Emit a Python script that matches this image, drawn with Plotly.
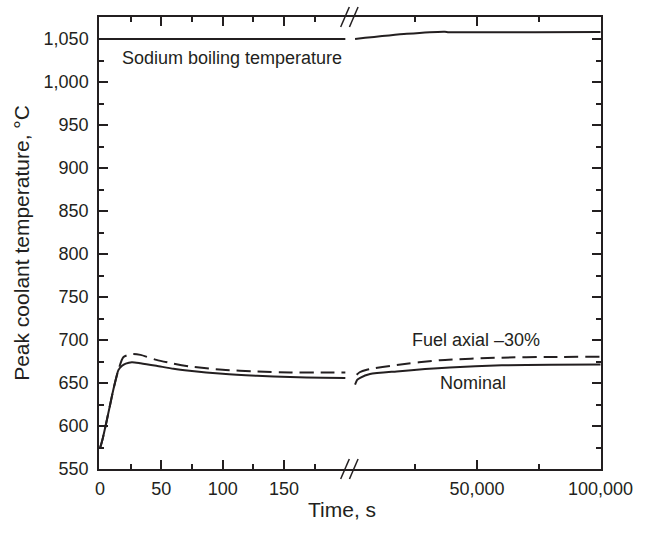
import plotly.graph_objects as go

# ---------------- data ----------------
# left (short-time) segment, time in s
t_left = [0, 2, 5, 8, 11, 15, 18, 21, 26, 33, 46, 60, 73, 100, 128, 155, 182, 200]
nominal_left = [574, 584, 603, 623, 643, 665, 670, 672.5, 674.2, 673, 670, 666.5, 664.2, 660.7, 658.4, 656.9, 656.1, 655.8]
t_fuel_left = [0, 2, 5, 8, 11, 15, 19, 26, 33, 46, 60, 73, 100, 128, 155, 182, 200]
fuel_left = [574, 584, 603, 623, 643, 665, 680, 683.8, 682.7, 676.9, 672.5, 669.2, 665.4, 663.4, 662.3, 662.3, 662.3]
t_sodium_left = [0, 200]
sodium_left = [1050, 1050]

# right (long-time) segment, time in s
t_nom_right = [650, 1500, 2700, 6700, 17500, 39000, 60000, 80000, 100000]
nominal_right = [648, 653.5, 656, 660.5, 663.5, 668, 670.5, 671.2, 671.5]
t_fuel_right = [1300, 2500, 5400, 17500, 35000, 60000, 80000, 100000]
fuel_right = [659.5, 662.5, 665.5, 671, 676.5, 679.5, 680.3, 680.5]
t_sodium_right = [650, 21600, 37000, 38500, 73600, 100000]
sodium_right = [1050, 1056, 1058.5, 1058, 1058, 1058.3]

x_left_ticks = [0, 50, 100, 150]
x_left_minor = [25, 75, 125, 175]
x_right_ticks = [50000, 100000]
x_right_labels = ["50,000", "100,000"]
x_right_minor = [25000, 75000]
y_ticks = [550, 600, 650, 700, 750, 800, 850, 900, 950, 1000, 1050]

# ---------------- style ----------------
INK = "#231f20"
FONT = "Liberation Sans, Arial, sans-serif"
LW = 2

fig = go.Figure()

def add(x, y, xa, ya, dash=None):
    fig.add_trace(go.Scatter(
        x=x, y=y, xaxis=xa, yaxis=ya, mode="lines",
        line=dict(color=INK, width=LW, dash=dash, shape="spline", smoothing=0.6),
        showlegend=False, hoverinfo="skip"))

add(t_sodium_left, sodium_left, "x", "y")
add(t_left, nominal_left, "x", "y")
add(t_fuel_left, fuel_left, "x", "y", dash="14px,7px")
add(t_sodium_right, sodium_right, "x2", "y2")
add(t_nom_right, nominal_right, "x2", "y2")
add(t_fuel_right, fuel_right, "x2", "y2", dash="14px,7px")

axis_common = dict(
    showline=True, linecolor=INK, linewidth=1.5, ticks="inside", ticklen=9,
    tickwidth=1.5, tickcolor=INK, showgrid=False, zeroline=False,
    tickfont=dict(family=FONT, size=18, color=INK),
)

Y_RANGE = [550, 1075.6]

fig.update_layout(
    width=645, height=533,
    margin=dict(l=99, r=44, t=17, b=64),
    paper_bgcolor="white", plot_bgcolor="white",
    font=dict(family=FONT, color=INK),
    xaxis=dict(domain=[0, 0.5], range=[-0.8, 203.8], anchor="y", mirror="ticks",
               tickvals=x_left_ticks, ticklabelstandoff=3,
               minor=dict(tickvals=x_left_minor, ticks="inside", ticklen=5,
                          tickwidth=1.5, tickcolor=INK),
               **axis_common),
    xaxis2=dict(domain=[0.5, 1], range=[-1400, 100200], anchor="y2", mirror="ticks",
                tickvals=x_right_ticks, ticktext=x_right_labels, ticklabelstandoff=3,
                minor=dict(tickvals=x_right_minor, ticks="inside", ticklen=5,
                           tickwidth=1.5, tickcolor=INK),
                **axis_common),
    yaxis=dict(domain=[0, 1], range=Y_RANGE, anchor="x", mirror=False,
               tickvals=y_ticks, tickformat=",", ticklabelstandoff=5,
               minor=dict(dtick=25, tick0=550, ticks="inside", ticklen=5,
                          tickwidth=1.5, tickcolor=INK),
               title=dict(text="Peak coolant temperature, °C",
                          font=dict(family=FONT, size=21, color=INK), standoff=8),
               **axis_common),
    yaxis2=dict(domain=[0, 1], range=Y_RANGE, anchor="x2", side="right",
                showticklabels=False, tickvals=y_ticks,
                minor=dict(dtick=25, tick0=550, ticks="inside", ticklen=5,
                           tickwidth=1.5, tickcolor=INK),
                **axis_common),
)

# text labels
fig.add_annotation(x=108, y=1028, xref="x", yref="y", text="Sodium boiling temperature",
                   showarrow=False, font=dict(family=FONT, size=18, color=INK))
fig.add_annotation(x=22950, y=700, xref="x2", yref="y2", text="Fuel axial \u201330%",
                   xanchor="left", showarrow=False, font=dict(family=FONT, size=18, color=INK))
fig.add_annotation(x=34300, y=650, xref="x2", yref="y2", text="Nominal",
                   xanchor="left", showarrow=False, font=dict(family=FONT, size=18, color=INK))
fig.add_annotation(x=0.484, y=-0.1195, xref="paper", yref="paper", text="Time, s",
                   showarrow=False, font=dict(family=FONT, size=21, color=INK))

# axis-break marks (//) on the bottom and top frame lines
for ybase in (0.0, 1.0):
    for xc in (0.4900, 0.5075):
        fig.add_shape(type="line", xref="paper", yref="paper",
                      x0=xc - 0.0086, y0=ybase - 0.022, x1=xc + 0.0086, y1=ybase + 0.022,
                      line=dict(color=INK, width=1.5))

fig.write_html("out.html")
